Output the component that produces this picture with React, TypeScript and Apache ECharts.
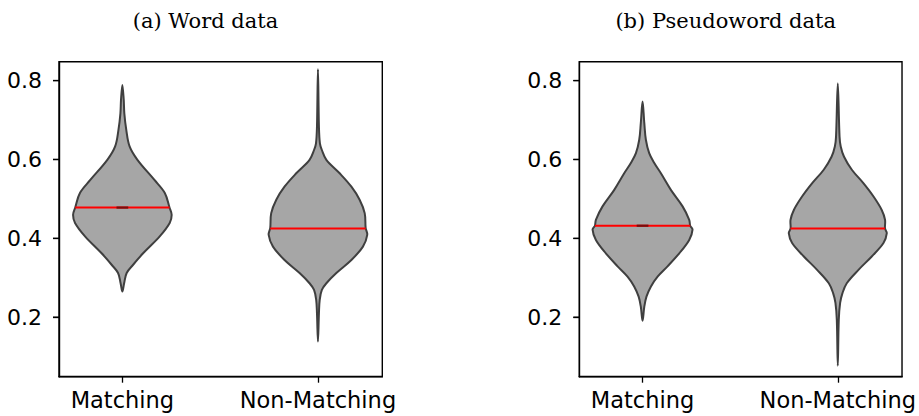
import React, { useEffect, useRef } from "react";
import * as echarts from "echarts";

const categories = ["Matching", "Non-Matching"];
const panelTitles = ["(a) Word data", "(b) Pseudoword data"];
const yTicks = [0.2, 0.4, 0.6, 0.8];

// Violin outlines: y values and half-widths (x units)
const wordMatchY = [0.789, 0.751, 0.717, 0.675, 0.633, 0.599, 0.548, 0.515, 0.478, 0.46, 0.439, 0.405, 0.362, 0.333, 0.312, 0.286, 0.265];
const wordMatchW = [0, 0.007, 0.01, 0.02, 0.037, 0.077, 0.164, 0.217, 0.241, 0.252, 0.242, 0.191, 0.106, 0.055, 0.022, 0.009, 0];
const wordNonY = [0.829, 0.683, 0.641, 0.624, 0.599, 0.565, 0.531, 0.498, 0.464, 0.426, 0.409, 0.379, 0.345, 0.312, 0.286, 0.269, 0.244, 0.21, 0.138];
const wordNonW = [0, 0.005, 0.01, 0.02, 0.043, 0.111, 0.171, 0.213, 0.239, 0.244, 0.252, 0.23, 0.171, 0.094, 0.043, 0.02, 0.009, 0.005, 0];
const pseudoMatchY = [0.747, 0.692, 0.65, 0.616, 0.591, 0.565, 0.523, 0.481, 0.447, 0.432, 0.422, 0.396, 0.362, 0.329, 0.303, 0.278, 0.252, 0.227, 0.191];
const pseudoMatchW = [0, 0.009, 0.017, 0.034, 0.06, 0.094, 0.145, 0.205, 0.239, 0.244, 0.256, 0.239, 0.188, 0.128, 0.077, 0.043, 0.02, 0.009, 0];
const pseudoNonY = [0.793, 0.658, 0.633, 0.607, 0.574, 0.54, 0.506, 0.472, 0.447, 0.425, 0.413, 0.388, 0.354, 0.32, 0.286, 0.261, 0.236, 0.193, 0.077];
const pseudoNonW = [0, 0.009, 0.015, 0.032, 0.072, 0.131, 0.183, 0.225, 0.242, 0.242, 0.251, 0.234, 0.174, 0.106, 0.046, 0.024, 0.012, 0.005, 0];

const wordMedians = [0.478, 0.425];
const pseudoMedians = [0.432, 0.425];
const wordMedHalf = [0.241, 0.244];
const pseudoMedHalf = [0.244, 0.242];
const innerMarkHalf = [0.03, 0];

const panels = [
  { title: panelTitles[0], ys: [wordMatchY, wordNonY], ws: [wordMatchW, wordNonW], med: wordMedians, medHalf: wordMedHalf },
  { title: panelTitles[1], ys: [pseudoMatchY, pseudoNonY], ws: [pseudoMatchW, pseudoNonW], med: pseudoMedians, medHalf: pseudoMedHalf },
];

const X_MIN = -0.324;
const X_MAX = 1.329;

export default function App() {
  const ref = useRef<HTMLDivElement>(null);
  useEffect(() => {
    if (!ref.current) return;
    const chart = echarts.init(ref.current, null, { renderer: "svg" });
    const gridLefts = [59, 579.3];
    const titleCenters = [205.5, 725.7];

    const grids = gridLefts.map((l) => ({
      left: l,
      top: 61.7,
      width: 323.3,
      height: 315,
      show: true,
      borderColor: "#000",
      borderWidth: 1.4,
    }));
    const xAxes = gridLefts.map((_, i) => ({
      type: "value",
      gridIndex: i,
      min: X_MIN,
      max: X_MAX,
      axisLine: { show: true, onZero: false, lineStyle: { color: "#000", width: 1.4 } },
      splitLine: { show: false },
      axisTick: { show: true, length: 6, customValues: [0, 1], lineStyle: { color: "#000", width: 1.3 } },
      axisLabel: {
        fontFamily: "DejaVu Sans",
        fontSize: 22.5,
        color: "#000",
        margin: 12,
        customValues: [0, 1],
        formatter: (v: number) => categories[Math.round(v)] ?? "",
      },
    }));
    const yAxes = gridLefts.map((_, i) => ({
      type: "value",
      gridIndex: i,
      min: 0.049,
      max: 0.848,
      axisLine: { show: true, onZero: false, lineStyle: { color: "#000", width: 1.4 } },
      splitLine: { show: false },
      axisTick: { show: true, length: 6, customValues: yTicks, lineStyle: { color: "#000", width: 1.3 } },
      axisLabel: {
        fontFamily: "DejaVu Sans",
        fontSize: 22,
        color: "#000",
        margin: 17,
        customValues: yTicks,
        formatter: (v: number) => v.toFixed(1),
      },
    }));

    const violinSeries = panels.map((p, pi) => ({
      type: "custom",
      xAxisIndex: pi,
      yAxisIndex: pi,
      encode: { x: 0, y: 1 },
      data: p.med.map((m, k) => [k, m]),
      renderItem: (params: any, api: any) => {
        const k = params.dataIndex;
        const pos = api.value(0);
        const med = api.value(1);
        const ys = p.ys[k];
        const ws = p.ws[k];
        const pts: number[][] = [];
        for (let i = 0; i < ys.length; i++) pts.push(api.coord([pos + ws[i], ys[i]]));
        for (let i = ys.length - 2; i >= 1; i--) pts.push(api.coord([pos - ws[i], ys[i]]));
        const a = api.coord([pos - p.medHalf[k], med]);
        const b = api.coord([pos + p.medHalf[k], med]);
        const children: any[] = [
          {
            type: "polygon",
            shape: { points: pts, smooth: 0.35 },
            style: { fill: "#a6a6a6", stroke: "#3f3f3f", lineWidth: 2 },
          },
          {
            type: "line",
            shape: { x1: a[0], y1: a[1], x2: b[0], y2: b[1] },
            style: { stroke: "#ff0000", lineWidth: 2 },
          },
        ];
        if (innerMarkHalf[k] > 0) {
          const c = api.coord([pos - innerMarkHalf[k], med]);
          const d = api.coord([pos + innerMarkHalf[k], med]);
          children.push({
            type: "line",
            shape: { x1: c[0], y1: c[1], x2: d[0], y2: d[1] },
            style: { stroke: "#7a0c0c", lineWidth: 2.2 },
          });
        }
        return { type: "group", children };
      },
    }));

    const titleGraphics = panels.map((p, i) => ({
      type: "text",
      x: titleCenters[i],
      y: 21,
      style: {
        text: p.title,
        fontFamily: "DejaVu Serif",
        fontSize: 21,
        fill: "#000",
        textAlign: "center",
        textVerticalAlign: "middle",
      },
    }));

    chart.setOption({
      animation: false,
      backgroundColor: "#fff",
      grid: grids,
      xAxis: xAxes,
      yAxis: yAxes,
      series: violinSeries,
      graphic: titleGraphics,
    });

    // y-axis tick marks, positioned through the axis scales
    const tickGraphics: any[] = [];
    panels.forEach((_, pi) => {
      yTicks.forEach((v) => {
        let pt: any = null;
        try {
          pt = chart.convertToPixel({ xAxisIndex: pi, yAxisIndex: pi } as any, [X_MIN, v]);
        } catch (e) {
          pt = null;
        }
        if (pt && isFinite(pt[0]) && isFinite(pt[1])) {
          tickGraphics.push({
            type: "line",
            shape: { x1: pt[0] - 6, y1: pt[1], x2: pt[0], y2: pt[1] },
            style: { stroke: "#000", lineWidth: 1.3 },
            z: 100,
          });
        }
      });
    });
    if (tickGraphics.length) {
      chart.setOption({ graphic: [...titleGraphics, ...tickGraphics] });
    }

    return () => chart.dispose();
  }, []);
  return (
    <div
      ref={ref}
      style={{ position: "fixed", left: 0, top: 0, width: 919, height: 416, background: "#fff" }}
    />
  );
}
